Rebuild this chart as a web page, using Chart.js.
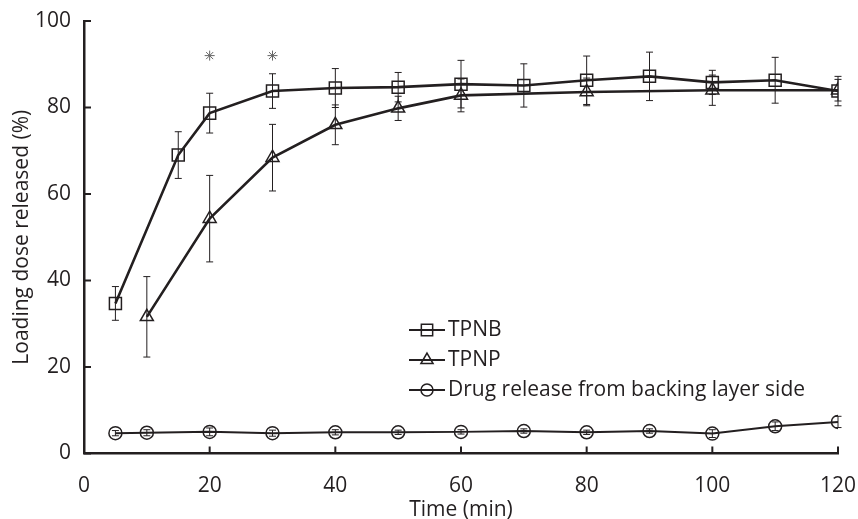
<!DOCTYPE html>
<html>
<head>
<meta charset="utf-8">
<script src="https://cdn.jsdelivr.net/npm/chart.js@4.4.0/dist/chart.umd.min.js"></script>
<style>
html, body { margin: 0; padding: 0; background: #fff; }
#wrap { width: 858px; height: 519px; position: relative; }
</style>
</head>
<body>
<div id="wrap"><canvas id="chart"></canvas></div>
<script>
// data
const tpnbTime = [5, 15, 20, 30, 40, 50, 60, 70, 80, 90, 100, 110, 120];
const tpnbMean = [34.7, 69.0, 78.7, 83.8, 84.5, 84.7, 85.4, 85.1, 86.3, 87.2, 85.8, 86.3, 83.8];
const tpnbErr  = [3.9, 5.4, 4.6, 4.0, 4.5, 3.4, 5.5, 5.0, 5.6, 5.6, 2.8, 5.3, 3.4];

const tpnpTime = [10, 20, 30, 40, 50, 60, 80, 100, 120];
const tpnpMean = [31.6, 54.3, 68.4, 76.0, 79.8, 82.8, 83.6, 84.0, 84.0];
const tpnpErr  = [9.3, 10.0, 7.7, 4.6, 2.8, 3.8, 3.2, 3.5, 2.5];

const backTime = [5, 10, 20, 30, 40, 50, 60, 70, 80, 90, 100, 110, 120];
const backMean = [4.7, 4.8, 5.0, 4.7, 4.9, 4.9, 5.0, 5.2, 4.9, 5.2, 4.6, 6.3, 7.3];
const backErr  = [0.6, 0.7, 0.9, 0.7, 0.6, 0.5, 0.5, 0.5, 0.5, 0.5, 0.9, 1.0, 1.3];

const starTime = [20, 30];
const starLevel = [92, 92];

const xTicks = [0, 20, 40, 60, 80, 100, 120];
const yTicks = [0, 20, 40, 60, 80, 100];

const ink = '#231f20';
const font = 'Open Sans';

function pts(xs, ys){
    return xs.map((x, i) => ({x: x, y: ys[i]}));
}

// vertical error bars with caps
const errorBars = {
    id: 'errorBars',
    beforeDatasetsDraw(chart){
        const ctx = chart.ctx;
        const xs = chart.scales.x, ys = chart.scales.y;
        chart.data.datasets.forEach(ds => {
            if(!ds.errors) return;
            ctx.save();
            ctx.strokeStyle = ink;
            ctx.lineWidth = 1;
            ds.data.forEach((p, i) => {
                const px = xs.getPixelForValue(p.x);
                const t = ys.getPixelForValue(p.y + ds.errors[i]);
                const b = ys.getPixelForValue(p.y - ds.errors[i]);
                ctx.beginPath();
                ctx.moveTo(px, t); ctx.lineTo(px, b);
                ctx.moveTo(px - 3.5, t); ctx.lineTo(px + 3.5, t);
                ctx.moveTo(px - 3.5, b); ctx.lineTo(px + 3.5, b);
                ctx.stroke();
            });
            ctx.restore();
        });
    }
};

// tick marks pointing into the plot
const innerTicks = {
    id: 'innerTicks',
    afterDraw(chart){
        const ctx = chart.ctx;
        const xs = chart.scales.x, ys = chart.scales.y;
        const area = chart.chartArea;
        ctx.save();
        ctx.strokeStyle = ink;
        ctx.lineWidth = 2;
        ctx.beginPath();
        xTicks.forEach(v => {
            const px = xs.getPixelForValue(v);
            ctx.moveTo(px, area.bottom);
            ctx.lineTo(px, area.bottom - 7);
        });
        yTicks.forEach(v => {
            const py = ys.getPixelForValue(v);
            ctx.moveTo(area.left, py);
            ctx.lineTo(area.left + 7, py);
        });
        ctx.stroke();
        ctx.restore();
    }
};

// legend in the middle of the plot
const legendBox = {
    id: 'legendBox',
    afterDraw(chart){
        const ctx = chart.ctx;
        const x0 = 409, x1 = 445, textX = 448;
        const rows = [330, 360, 390];
        ctx.save();
        chart.data.datasets.slice(0, 3).forEach((ds, i) => {
            const y = rows[i];
            ctx.strokeStyle = ink;
            ctx.lineWidth = 2;
            ctx.beginPath();
            ctx.moveTo(x0, y); ctx.lineTo(x1, y);
            ctx.stroke();
            ctx.lineWidth = ds.pointBorderWidth;
            ctx.fillStyle = 'rgba(0,0,0,0)';
            Chart.helpers.drawPoint(ctx, {
                pointStyle: ds.pointStyle,
                radius: ds.pointRadius - 0.5,
                rotation: 0,
                borderWidth: ds.pointBorderWidth
            }, (x0 + x1) / 2, y);
            ctx.fillStyle = ink;
            ctx.font = '21px "' + font + '"';
            ctx.textBaseline = 'middle';
            ctx.textAlign = 'left';
            ctx.fillText(ds.label, textX, y);
        });
        ctx.restore();
    }
};

new Chart(document.getElementById('chart'), {
    type: 'scatter',
    data: {
        datasets: [
            {
                label: 'TPNB',
                data: pts(tpnbTime, tpnbMean),
                errors: tpnbErr,
                showLine: true,
                borderColor: ink,
                borderWidth: 2.6,
                pointStyle: 'rect',
                pointRadius: 8.5,
                pointBorderWidth: 1.5,
                pointBorderColor: ink,
                pointBackgroundColor: 'rgba(0,0,0,0)'
            },
            {
                label: 'TPNP',
                data: pts(tpnpTime, tpnpMean),
                errors: tpnpErr,
                showLine: true,
                borderColor: ink,
                borderWidth: 2.6,
                pointStyle: 'triangle',
                pointRadius: 7.5,
                pointBorderWidth: 1.5,
                pointBorderColor: ink,
                pointBackgroundColor: 'rgba(0,0,0,0)'
            },
            {
                label: 'Drug release from backing layer side',
                data: pts(backTime, backMean),
                errors: backErr,
                showLine: true,
                borderColor: ink,
                borderWidth: 2,
                pointStyle: 'circle',
                pointRadius: 6.5,
                pointBorderWidth: 1.5,
                pointBorderColor: ink,
                pointBackgroundColor: 'rgba(0,0,0,0)'
            },
            {
                label: 'sig',
                data: pts(starTime, starLevel),
                showLine: false,
                pointStyle: 'star',
                pointRadius: 5,
                pointBorderWidth: 1,
                pointBorderColor: '#666',
                pointBackgroundColor: '#666'
            }
        ]
    },
    options: {
        responsive: true,
        maintainAspectRatio: false,
        animation: false,
        devicePixelRatio: 1,
        layout: { padding: { top: 21, right: 20, left: 0, bottom: 0 } },
        plugins: {
            legend: { display: false },
            tooltip: { enabled: false }
        },
        scales: {
            x: {
                type: 'linear',
                min: 0,
                max: 120,
                afterFit(scale){
                    scale.height = 65.5;
                    scale.paddingLeft = 0;
                    scale.paddingRight = 0;
                },
                afterBuildTicks(scale){ scale.ticks = xTicks.map(v => ({value: v})); },
                grid: { display: true, drawOnChartArea: false, drawTicks: false },
                border: { display: true, color: ink, width: 2.5 },
                ticks: { color: ink, font: { family: font, size: 21 }, padding: 20 },
                title: {
                    display: true,
                    text: 'Time (min)',
                    color: ink,
                    font: { family: font, size: 21 },
                    padding: { top: 0, bottom: -4 }
                }
            },
            y: {
                min: 0,
                max: 100,
                afterFit(scale){
                    scale.width = 84;
                    scale.paddingTop = 0;
                    scale.paddingBottom = 0;
                },
                afterBuildTicks(scale){ scale.ticks = yTicks.map(v => ({value: v})); },
                grid: { display: true, drawOnChartArea: false, drawTicks: false },
                border: { display: true, color: ink, width: 2.5 },
                ticks: { color: ink, font: { family: font, size: 21 }, padding: 13 },
                title: {
                    display: true,
                    text: 'Loading dose released (%)',
                    color: ink,
                    font: { family: font, size: 21 },
                    padding: { top: 9, bottom: 0 }
                }
            }
        }
    },
    plugins: [errorBars, innerTicks, legendBox]
});
</script>
</body>
</html>
